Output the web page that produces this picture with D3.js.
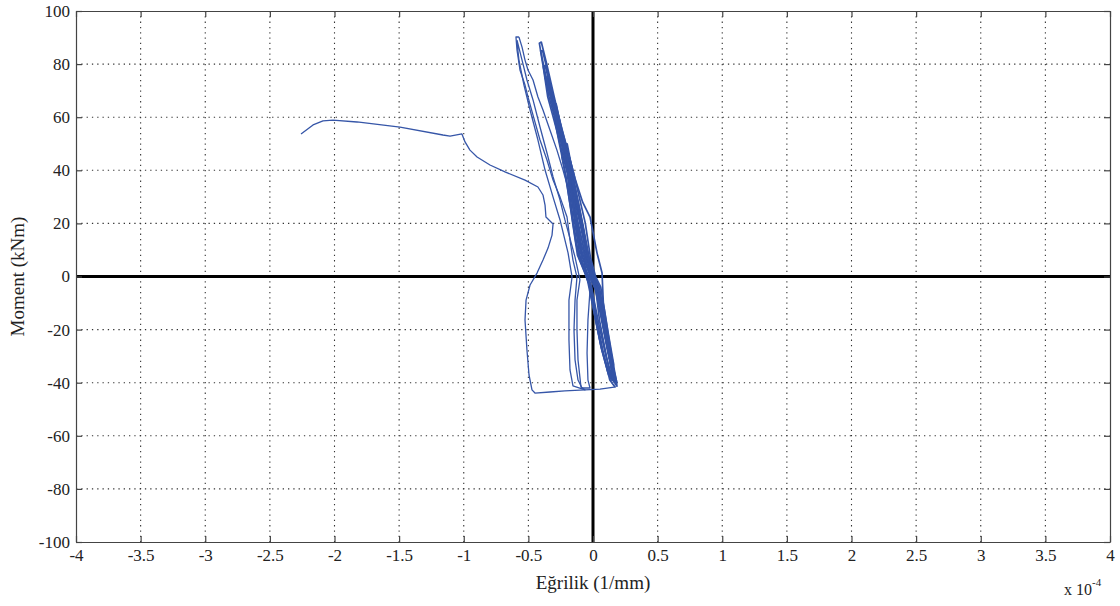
<!DOCTYPE html>
<html><head><meta charset="utf-8">
<script src="https://cdn.jsdelivr.net/npm/d3@7"></script>
<style>
html,body{margin:0;padding:0;background:#fff;}
svg{display:block;}
text{font-family:"Liberation Serif","Times New Roman",serif;fill:#222;}
</style></head>
<body>
<svg id="chart" width="1120" height="606"></svg>
<script>
// ---------- data (x in 1e-4 1/mm, y in kNm) ----------
const xTicks = [-4,-3.5,-3,-2.5,-2,-1.5,-1,-0.5,0,0.5,1,1.5,2,2.5,3,3.5,4];
const yTicks = [-100,-80,-60,-40,-20,0,20,40,60,80,100];

// stiff cycles forming the thick band
const bandCycle1 = [[0.17,-41.6],[0.13,-39],[0.08,-28.8],[0.03,-16.4],[-0.01,-4],[-0.04,0],[-0.10,7.3],[-0.14,20.2],[-0.19,39],[-0.27,55.2],[-0.34,67.6],[-0.39,80.4],[-0.415,87.9],
  [-0.40,88.3],[-0.36,80.4],[-0.30,67.6],[-0.24,55.2],[-0.15,39],[-0.06,20.2],[-0.02,7.3],[0.02,0],[0.06,-4],[0.10,-16.4],[0.14,-28.8],[0.18,-39],[0.186,-41.6]];
const bandCycle2 = [[0.18,-40.5],[0.12,-37],[0.07,-28],[0.02,-16],[-0.02,-4],[-0.05,0],[-0.11,7.3],[-0.15,20],[-0.20,39],[-0.28,55],[-0.35,67.6],[-0.385,79],
  [-0.37,79.5],[-0.31,67],[-0.25,55],[-0.16,39],[-0.08,20],[-0.03,7],[0.01,0],[0.05,-4],[0.09,-16],[0.13,-29],[0.17,-38.5],[0.18,-40.5]];
const bandCycle3 = [[0.17,-40],[0.115,-36],[0.065,-27],[0.015,-15],[-0.03,-3],[-0.06,1],[-0.12,8],[-0.16,21],[-0.21,38],[-0.26,50],[-0.30,60],
  [-0.28,60],[-0.22,50],[-0.17,38],[-0.10,21],[-0.04,8],[0.0,0],[0.04,-4],[0.08,-16],[0.12,-28],[0.16,-37],[0.17,-40]];
const bandCycle4 = [[0.16,-39],[0.11,-34],[0.06,-26],[0.01,-14],[-0.04,-2],[-0.07,3],[-0.13,12],[-0.17,25],[-0.22,40],[-0.24,45],
  [-0.22,45],[-0.18,38],[-0.12,24],[-0.06,11],[-0.01,1],[0.03,-5],[0.07,-16],[0.11,-27],[0.15,-36],[0.16,-39]];
const bandCycle5 = [[0.185,-40],[0.14,-33],[0.09,-22],[0.04,-10],[0,0],[-0.06,8],[-0.11,19],[-0.16,30],[-0.19,35],
  [-0.17,35],[-0.13,28],[-0.08,17],[-0.03,6],[0.02,-2],[0.07,-12],[0.11,-23],[0.15,-33],[0.185,-40]];
const bandCycle6 = [[0.15,-38],[0.10,-30],[0.05,-19],[0.0,-7],[-0.04,0],[-0.09,9],[-0.14,22],[-0.18,36],[-0.24,50],[-0.30,62],[-0.34,70],
  [-0.32,70],[-0.27,61],[-0.21,50],[-0.14,37],[-0.08,28],[-0.023,22.4],[0.031,8.9],[0.07,1.3],[0.08,-10],[0.12,-22],[0.16,-33],[0.15,-38]];
const bandCycle7 = [[0.14,-39],[0.10,-29],[0.05,-16.4],[0.02,-4],[-0.02,0],[-0.08,7.3],[-0.12,20],[-0.17,39],[-0.25,55],[-0.32,67.6],[-0.37,75],
  [-0.355,75],[-0.31,67.6],[-0.255,55],[-0.17,39],[-0.09,20],[-0.05,7.3],[-0.01,0],[0.03,-4],[0.07,-16.4],[0.12,-28.8],[0.165,-39],[0.14,-39]];
const bandCycle8 = [[0.175,-41],[0.135,-33],[0.10,-22],[0.06,-10],[0.01,-2],[-0.03,2],[-0.09,10],[-0.13,22],[-0.18,38],[-0.22,50],
  [-0.20,50],[-0.16,40],[-0.11,25],[-0.07,13],[-0.03,4],[0.01,-2],[0.05,-10],[0.09,-22],[0.13,-32],[0.175,-41]];
const bandCycle9 = [[0.16,-40],[0.125,-30],[0.085,-18],[0.045,-7],[0.0,-1],[-0.05,5],[-0.10,14],[-0.14,26],[-0.19,40],[-0.25,53],[-0.30,65],
  [-0.285,65],[-0.235,53],[-0.175,40],[-0.11,27],[-0.06,14],[-0.02,5],[0.02,-1],[0.06,-8],[0.10,-19],[0.14,-31],[0.16,-40]];
const bandCycle10 = [[0.18,-41],[0.145,-35],[0.105,-25],[0.06,-13],[0.02,-5],[-0.03,0],[-0.08,5],[-0.13,18],[-0.18,36],[-0.26,54],[-0.33,68],[-0.38,79],[-0.405,85],
  [-0.39,85],[-0.355,78],[-0.31,68],[-0.245,54],[-0.16,36],[-0.075,18],[-0.03,5],[0.01,-2],[0.045,-8],[0.085,-18],[0.125,-28],[0.165,-37],[0.18,-41]];

// more flexible cycles on the left
const leftCycle1 = [[-0.573,90.2],[-0.549,86.4],[-0.526,81.5],[-0.503,77.8],[-0.464,74.0],[-0.426,67.6],[-0.387,62.7],[-0.333,55.2],[-0.279,47.6],[-0.232,40.1],[-0.178,30.7],[-0.124,21.3],[-0.077,11.9],[-0.046,4.3],[-0.023,0.2],[-0.023,-5.1],[-0.039,-16.4],[-0.046,-28.8],[-0.039,-39.0],[-0.023,-42.0],
  [-0.085,-42.0],[-0.116,-39.0],[-0.139,-31.4],[-0.147,-20.2],[-0.139,-8.9],[-0.124,-0.2],[-0.155,6.2],[-0.178,13.7],[-0.201,22.4],[-0.255,29.9],[-0.309,36.3],[-0.356,43.9],[-0.410,51.4],[-0.464,60.8],[-0.503,67.6],[-0.526,72.1],[-0.565,77.8],[-0.588,85.3],[-0.596,90.2],[-0.573,90.2]];
const leftCycle2 = [[-0.588,89.0],[-0.549,81.5],[-0.511,74.0],[-0.464,66.5],[-0.410,56.3],[-0.356,46.5],[-0.309,37.5],[-0.255,28.8],[-0.217,21.3],[-0.139,7.3],[-0.101,-1.3],[-0.124,-8.9],[-0.124,-20.2],[-0.116,-31.4],[-0.093,-41.6],[-0.062,-42.7],
  [-0.155,-41.2],[-0.178,-35.2],[-0.186,-23.9],[-0.186,-8.9],[-0.162,-0.2],[-0.193,8.9],[-0.255,21.3],[-0.309,29.9],[-0.371,40.1],[-0.426,51.4],[-0.487,62.7],[-0.534,72.1],[-0.573,81.5],[-0.588,88.3]];

// final excursion to large curvature
const finalBranch = [[0.178,-41.6],[0.054,-42.4],[-0.062,-42.7],[-0.217,-43.1],[-0.333,-43.5],[-0.449,-43.9],[-0.472,-42.7],[-0.495,-37.1],[-0.511,-27.7],[-0.526,-16.4],[-0.518,-8.9],[-0.487,-3.2],[-0.433,1.3],[-0.387,6.2],[-0.348,10.7],[-0.317,15.6],[-0.309,19.8],[-0.364,22.4],[-0.371,26.9],[-0.387,30.7],[-0.426,33.7],[-0.526,36.3],[-0.681,39.4],[-0.797,42.0],[-0.897,45.0],[-0.952,47.6],[-0.990,50.7],[-1.014,53.7],[-1.106,52.9],[-1.161,53.3],[-1.493,56.3],[-1.826,58.2],[-2.012,58.9],[-2.089,58.6],[-2.166,57.1],[-2.259,53.7]];

const thinSeries = [leftCycle2, leftCycle1, finalBranch];
const bandSeries = [bandCycle1, bandCycle2, bandCycle3, bandCycle4, bandCycle5, bandCycle6, bandCycle7, bandCycle8, bandCycle9, bandCycle10];

// ---------- layout ----------
const L = 76, R = 1110, T = 11, B = 542;
const svg = d3.select("#chart");
const x = d3.scaleLinear().domain([-4,4]).range([L,R]);
const y = d3.scaleLinear().domain([-100,100]).range([B,T]);

// dotted grid
const grid = svg.append("g");
grid.selectAll("line.gx").data(xTicks.filter(v=>v!==0 && v!==-4 && v!==4)).join("line")
  .attr("x1",d=>x(d)).attr("x2",d=>x(d)).attr("y1",T).attr("y2",B)
  .attr("stroke","#333").attr("stroke-width",1.1).attr("stroke-dasharray","1.3,4");
grid.selectAll("line.gy").data(yTicks.filter(v=>v!==0 && v!==-100 && v!==100)).join("line")
  .attr("y1",d=>y(d)).attr("y2",d=>y(d)).attr("x1",L).attr("x2",R)
  .attr("stroke","#333").attr("stroke-width",1.1).attr("stroke-dasharray","1.3,4");

// zero lines
svg.append("line").attr("x1",L).attr("x2",R).attr("y1",y(0)).attr("y2",y(0)).attr("stroke","#000").attr("stroke-width",3);
svg.append("line").attr("x1",x(0)).attr("x2",x(0)).attr("y1",T).attr("y2",B).attr("stroke","#000").attr("stroke-width",3);

// data lines
const line = d3.line().x(d=>x(d[0])).y(d=>y(d[1]));
svg.append("g").selectAll("path").data(thinSeries).join("path")
  .attr("d",line).attr("fill","none").attr("stroke","#3656a8").attr("stroke-width",1.3)
  .attr("stroke-linejoin","round");
svg.append("g").selectAll("path").data(bandSeries).join("path")
  .attr("d",line).attr("fill","none").attr("stroke","#3353a6").attr("stroke-width",1.7)
  .attr("stroke-linejoin","round");

// axes (inward ticks)
const fmt = d => String(d);
const axB = svg.append("g").attr("transform",`translate(0,${B})`)
  .call(d3.axisBottom(x).tickValues(xTicks).tickFormat(fmt).tickSizeInner(-6).tickSizeOuter(0).tickPadding(7));
const axT = svg.append("g").attr("transform",`translate(0,${T})`)
  .call(d3.axisTop(x).tickValues(xTicks).tickFormat("").tickSizeInner(-6).tickSizeOuter(0));
const axL = svg.append("g").attr("transform",`translate(${L},0)`)
  .call(d3.axisLeft(y).tickValues(yTicks).tickFormat(fmt).tickSizeInner(-6).tickSizeOuter(0).tickPadding(6));
const axR = svg.append("g").attr("transform",`translate(${R},0)`)
  .call(d3.axisRight(y).tickValues(yTicks).tickFormat("").tickSizeInner(-6).tickSizeOuter(0));
[axB,axT,axL,axR].forEach(g=>{
  g.selectAll("path.domain").attr("stroke","#444").attr("stroke-width",1.2);
  g.selectAll(".tick line").attr("stroke","#444").attr("stroke-width",1.2);
  g.selectAll("text").attr("font-family","'Liberation Serif',serif").attr("font-size",17).attr("fill","#222");
});

// titles
svg.append("text").attr("x",x(0)).attr("y",589).attr("text-anchor","middle")
  .attr("font-size",19).text("Eğrilik (1/mm)");
svg.append("text").attr("transform",`translate(24,${y(0)}) rotate(-90)`).attr("text-anchor","middle")
  .attr("font-size",19).text("Moment (kNm)");
const ex = svg.append("text").attr("x",1064).attr("y",595).attr("font-size",16);
ex.append("tspan").text("x 10");
ex.append("tspan").attr("dy",-9).attr("font-size",11).text("-4");
</script>
</body></html>
